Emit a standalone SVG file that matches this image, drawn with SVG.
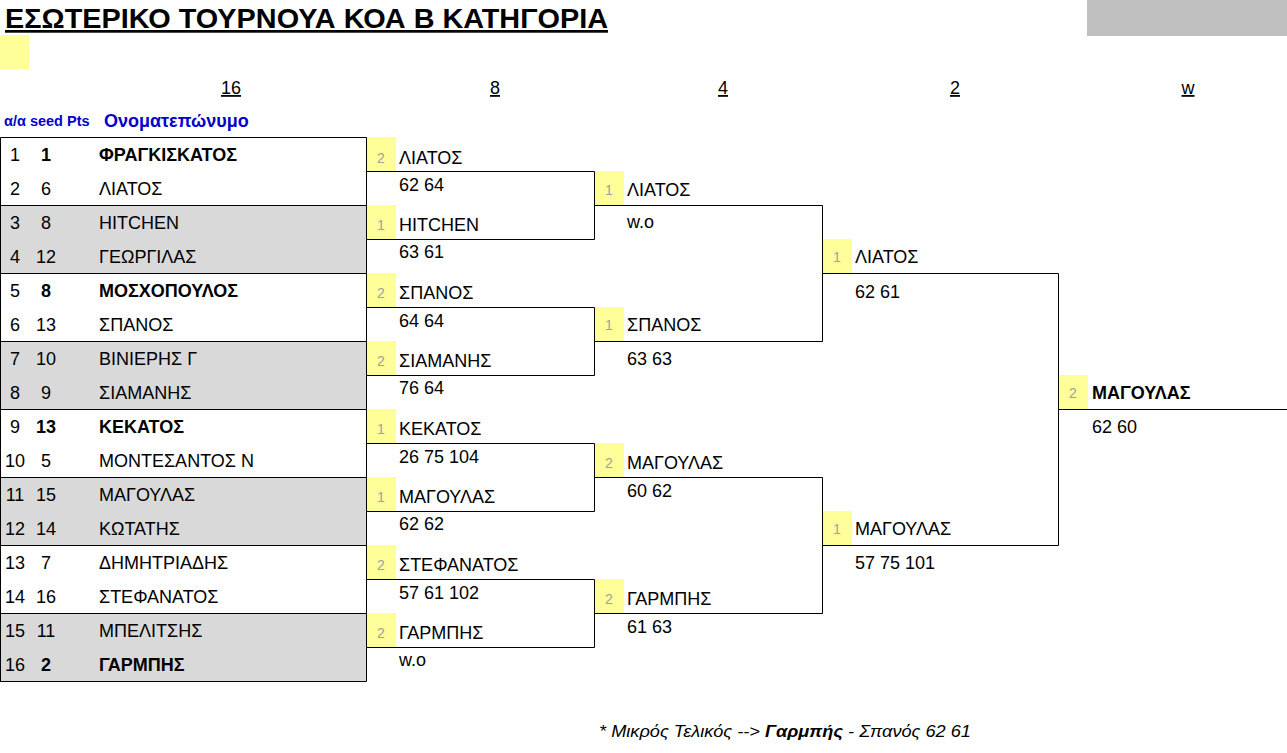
<svg xmlns="http://www.w3.org/2000/svg" width="1287" height="753" viewBox="0 0 1287 753">
<style>
text{font-family:"Liberation Sans",Arial,sans-serif;font-size:18px;fill:#000}
.b{font-weight:bold}
.c{text-anchor:middle}
.s{font-size:14px;fill:#a0a0a0;text-anchor:middle}
.hd{text-decoration:underline;text-anchor:middle}
.blue{fill:#0000cc;font-weight:bold}
.y{fill:#ffff99}
.g{fill:#d9d9d9}
.ln{stroke:#000;stroke-width:1;fill:none}
</style>
<rect width="1287" height="753" fill="#fff"/>
<g id="title">
<text x="5" y="28" class="b" style="font-size:27px;text-decoration:underline" textLength="603" lengthAdjust="spacingAndGlyphs">ΕΣΩΤΕΡΙΚΟ ΤΟΥΡΝΟΥΑ ΚΟΑ Β ΚΑΤΗΓΟΡΙΑ</text>
</g>
<rect x="1087" y="0" width="200" height="36" fill="#c0c0c0"/>
<rect x="0" y="35" width="29" height="34" class="y"/>
<g id="headers">
<text x="231" y="94" class="hd">16</text>
<text x="495" y="94" class="hd">8</text>
<text x="723" y="94" class="hd">4</text>
<text x="955" y="94" class="hd">2</text>
<text x="1188" y="94" class="hd">w</text>
<text x="4" y="126" class="blue" style="font-size:14.5px">α/α seed Pts</text>
<text x="104" y="127" class="blue" style="font-size:18px">Ονοματεπώνυμο</text>
</g>
<g id="table-bg">
<rect x="0" y="205" width="366" height="68" class="g"/>
<rect x="0" y="341" width="366" height="68" class="g"/>
<rect x="0" y="477" width="366" height="68" class="g"/>
<rect x="0" y="613" width="366" height="68" class="g"/>
</g>
<g id="players">
<g id="p1"><text x="15" y="161" class="c">1</text><text x="46" y="161" class="c b">1</text><text x="99" y="161" class="b">ΦΡΑΓΚΙΣΚΑΤΟΣ</text></g>
<g id="p2"><text x="15" y="195" class="c">2</text><text x="46" y="195" class="c">6</text><text x="99" y="195">ΛΙΑΤΟΣ</text></g>
<g id="p3"><text x="15" y="229" class="c">3</text><text x="46" y="229" class="c">8</text><text x="99" y="229">HITCHEN</text></g>
<g id="p4"><text x="15" y="263" class="c">4</text><text x="46" y="263" class="c">12</text><text x="99" y="263">ΓΕΩΡΓΙΛΑΣ</text></g>
<g id="p5"><text x="15" y="297" class="c">5</text><text x="46" y="297" class="c b">8</text><text x="99" y="297" class="b">ΜΟΣΧΟΠΟΥΛΟΣ</text></g>
<g id="p6"><text x="15" y="331" class="c">6</text><text x="46" y="331" class="c">13</text><text x="99" y="331">ΣΠΑΝΟΣ</text></g>
<g id="p7"><text x="15" y="365" class="c">7</text><text x="46" y="365" class="c">10</text><text x="99" y="365">ΒΙΝΙΕΡΗΣ Γ</text></g>
<g id="p8"><text x="15" y="399" class="c">8</text><text x="46" y="399" class="c">9</text><text x="99" y="399">ΣΙΑΜΑΝΗΣ</text></g>
<g id="p9"><text x="15" y="433" class="c">9</text><text x="46" y="433" class="c b">13</text><text x="99" y="433" class="b">ΚΕΚΑΤΟΣ</text></g>
<g id="p10"><text x="15" y="467" class="c">10</text><text x="46" y="467" class="c">5</text><text x="99" y="467">ΜΟΝΤΕΣΑΝΤΟΣ Ν</text></g>
<g id="p11"><text x="15" y="501" class="c">11</text><text x="46" y="501" class="c">15</text><text x="99" y="501">ΜΑΓΟΥΛΑΣ</text></g>
<g id="p12"><text x="15" y="535" class="c">12</text><text x="46" y="535" class="c">14</text><text x="99" y="535">ΚΩΤΑΤΗΣ</text></g>
<g id="p13"><text x="15" y="569" class="c">13</text><text x="46" y="569" class="c">7</text><text x="99" y="569">ΔΗΜΗΤΡΙΑΔΗΣ</text></g>
<g id="p14"><text x="15" y="603" class="c">14</text><text x="46" y="603" class="c">16</text><text x="99" y="603">ΣΤΕΦΑΝΑΤΟΣ</text></g>
<g id="p15"><text x="15" y="637" class="c">15</text><text x="46" y="637" class="c">11</text><text x="99" y="637">ΜΠΕΛΙΤΣΗΣ</text></g>
<g id="p16"><text x="15" y="671" class="c">16</text><text x="46" y="671" class="c b">2</text><text x="99" y="671" class="b">ΓΑΡΜΠΗΣ</text></g>
</g>
<g id="yellow">
<rect x="367" y="137" width="29" height="34" class="y"/>
<rect x="367" y="205" width="29" height="34" class="y"/>
<rect x="367" y="273" width="29" height="34" class="y"/>
<rect x="367" y="341" width="29" height="34" class="y"/>
<rect x="367" y="409" width="29" height="34" class="y"/>
<rect x="367" y="477" width="29" height="34" class="y"/>
<rect x="367" y="545" width="29" height="34" class="y"/>
<rect x="367" y="613" width="29" height="34" class="y"/>
<rect x="595" y="171" width="29" height="34" class="y"/>
<rect x="595" y="307" width="29" height="34" class="y"/>
<rect x="595" y="443" width="29" height="34" class="y"/>
<rect x="595" y="579" width="29" height="34" class="y"/>
<rect x="823" y="239" width="29" height="34" class="y"/>
<rect x="823" y="511" width="29" height="34" class="y"/>
<rect x="1059" y="375" width="29" height="34" class="y"/>
</g>
<g id="connectors" class="ln">
<path d="M0.5 137.5H366.5M0 205.5H366.5M0 273.5H366.5M0 341.5H366.5M0 409.5H366.5M0 477.5H366.5M0 545.5H366.5M0 613.5H366.5M0 681.5H366.5M0.5 137.5V681.5M366.5 137.5V681.5"/>
<path d="M366.5 171.5H594.5V239.5H366.5M366.5 307.5H594.5V375.5H366.5M366.5 443.5H594.5V511.5H366.5M366.5 579.5H594.5V647.5H366.5"/>
<path d="M594.5 205.5H822.5V341.5H594.5M594.5 477.5H822.5V613.5H594.5"/>
<path d="M822.5 273.5H1058.5V545.5H822.5"/>
<path d="M1058.5 409.5H1287"/>
</g>
<g id="r8-1"><text x="381" y="163" class="s">2</text><text x="399" y="164">ΛΙΑΤΟΣ</text><text x="399" y="191">62 64</text></g>
<g id="r8-2"><text x="381" y="230" class="s">1</text><text x="399" y="231">HITCHEN</text><text x="399" y="258">63 61</text></g>
<g id="r8-3"><text x="381" y="298" class="s">2</text><text x="399" y="299">ΣΠΑΝΟΣ</text><text x="399" y="327">64 64</text></g>
<g id="r8-4"><text x="381" y="366" class="s">2</text><text x="399" y="367">ΣΙΑΜΑΝΗΣ</text><text x="399" y="394">76 64</text></g>
<g id="r8-5"><text x="381" y="434" class="s">1</text><text x="399" y="435">ΚΕΚΑΤΟΣ</text><text x="399" y="463">26 75 104</text></g>
<g id="r8-6"><text x="381" y="502" class="s">1</text><text x="399" y="503">ΜΑΓΟΥΛΑΣ</text><text x="399" y="530">62 62</text></g>
<g id="r8-7"><text x="381" y="570" class="s">2</text><text x="399" y="571">ΣΤΕΦΑΝΑΤΟΣ</text><text x="399" y="599">57 61 102</text></g>
<g id="r8-8"><text x="381" y="638" class="s">2</text><text x="399" y="639">ΓΑΡΜΠΗΣ</text><text x="399" y="666">w.o</text></g>
<g id="r4-1"><text x="609" y="195" class="s">1</text><text x="627" y="196">ΛΙΑΤΟΣ</text><text x="627" y="228">w.o</text></g>
<g id="r4-2"><text x="609" y="330" class="s">1</text><text x="627" y="331">ΣΠΑΝΟΣ</text><text x="627" y="365">63 63</text></g>
<g id="r4-3"><text x="609" y="468" class="s">2</text><text x="627" y="469">ΜΑΓΟΥΛΑΣ</text><text x="627" y="497">60 62</text></g>
<g id="r4-4"><text x="609" y="604" class="s">2</text><text x="627" y="605">ΓΑΡΜΠΗΣ</text><text x="627" y="633">61 63</text></g>
<g id="r2-1"><text x="837" y="262" class="s">1</text><text x="855" y="263">ΛΙΑΤΟΣ</text><text x="855" y="298">62 61</text></g>
<g id="r2-2"><text x="837" y="534" class="s">1</text><text x="855" y="535">ΜΑΓΟΥΛΑΣ</text><text x="855" y="569">57 75 101</text></g>
<g id="winner"><text x="1073" y="398" class="s">2</text><text x="1092" y="399" class="b">ΜΑΓΟΥΛΑΣ</text><text x="1092" y="433">62 60</text></g>
<g id="footer">
<text x="599" y="737" style="font-style:italic;font-size:16px" textLength="372" lengthAdjust="spacingAndGlyphs">* Μικρός Τελικός --&gt; <tspan class="b">Γαρμπής</tspan>  - Σπανός 62 61</text>
</g>
</svg>
